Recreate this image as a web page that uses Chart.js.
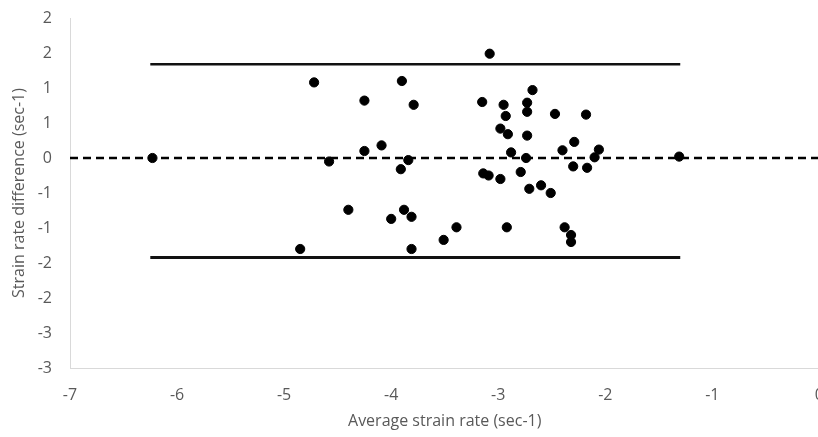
<!DOCTYPE html>
<html lang="en">
<head>
    <meta charset="UTF-8">
    <title>Strain rate Bland-Altman</title>
    <script src="https://cdn.jsdelivr.net/npm/chart.js"></script>
    <style>
        html, body { margin: 0; padding: 0; background: #ffffff; overflow: hidden; }
        #wrap { width: 842px; height: 437px; }
    </style>
</head>
<body>
    <div id="wrap"><canvas id="baChart" width="842" height="437"></canvas></div>
    <script>
        // average strain rate (x) and difference (y) for each subject
        const avgRate = [-6.23, -4.72, -3.90, -4.25, -3.79, -4.09, -4.25, -4.58, -3.84, -3.91,
            -4.40, -3.88, -4.00, -3.81, -4.85, -3.81, -3.08, -2.68, -3.15, -2.95,
            -2.73, -2.93, -2.73, -2.47, -2.18, -2.98, -2.91, -2.73, -2.29, -2.40,
            -2.06, -2.88, -2.10, -2.74, -1.31, -2.30, -2.17, -3.14, -3.09, -2.98,
            -2.79, -2.71, -2.60, -2.51, -3.39, -3.51, -2.92, -2.38, -2.32, -2.32];
        const rateDiff = [0.00, 1.08, 1.10, 0.82, 0.76, 0.18, 0.10, -0.05, -0.03, -0.16,
            -0.74, -0.74, -0.87, -0.84, -1.30, -1.30, 1.49, 0.97, 0.80, 0.76,
            0.79, 0.60, 0.66, 0.63, 0.62, 0.42, 0.34, 0.32, 0.23, 0.11,
            0.12, 0.08, 0.01, 0.00, 0.02, -0.12, -0.14, -0.22, -0.25, -0.30,
            -0.20, -0.44, -0.39, -0.50, -0.99, -1.17, -0.99, -0.99, -1.10, -1.20];

        const meanDiff = 0;
        const upperLimit = 1.34;
        const lowerLimit = -1.42;
        const limitFrom = -6.25;
        const limitTo = -1.30;

        const xTicks = [-7, -6, -5, -4, -3, -2, -1, 0];
        const yTicks = [-3, -2.5, -2, -1.5, -1, -0.5, 0, 0.5, 1, 1.5, 2];

        const points = avgRate.map((x, i) => ({ x: x, y: rateDiff[i] }));

        // Excel-style rounding of the half-step tick labels
        function roundLabel(v) {
            const r = Math.round(Math.abs(v));
            return v < 0 ? '-' + r : String(r);
        }

        const txt = '#595959';
        const fnt = { family: 'Open Sans', size: 16 };

        new Chart(document.getElementById('baChart').getContext('2d'), {
            type: 'scatter',
            data: {
                datasets: [
                    {
                        label: 'Subjects',
                        data: points,
                        backgroundColor: '#000000',
                        borderColor: '#000000',
                        pointRadius: 4.6,
                        pointHoverRadius: 4.6,
                        order: 0
                    },
                    {
                        label: 'Mean',
                        data: [{ x: xTicks[0], y: meanDiff }, { x: xTicks[xTicks.length - 1], y: meanDiff }],
                        showLine: true,
                        borderColor: '#000000',
                        borderWidth: 2.5,
                        borderDash: [8, 5],
                        pointRadius: 0,
                        order: 1
                    },
                    {
                        label: 'Upper limit',
                        data: [{ x: limitFrom, y: upperLimit }, { x: limitTo, y: upperLimit }],
                        showLine: true,
                        borderColor: '#111111',
                        borderWidth: 2.5,
                        pointRadius: 0,
                        order: 1
                    },
                    {
                        label: 'Lower limit',
                        data: [{ x: limitFrom, y: lowerLimit }, { x: limitTo, y: lowerLimit }],
                        showLine: true,
                        borderColor: '#111111',
                        borderWidth: 3,
                        pointRadius: 0,
                        order: 1
                    }
                ]
            },
            options: {
                responsive: false,
                animation: false,
                layout: { padding: 0 },
                plugins: {
                    legend: { display: false },
                    tooltip: { enabled: false }
                },
                scales: {
                    x: {
                        min: xTicks[0],
                        max: xTicks[xTicks.length - 1],
                        afterBuildTicks: (s) => { s.ticks = xTicks.map(v => ({ value: v })); },
                        afterFit: (s) => { s.height = 69; },
                        grid: { display: false, drawTicks: false },
                        border: { display: true, color: '#d9d9d9', width: 1 },
                        ticks: { color: txt, font: fnt, padding: 18, maxRotation: 0 },
                        title: {
                            display: true,
                            text: 'Average strain rate (sec-1)',
                            color: txt,
                            font: fnt,
                            padding: { top: 8, bottom: 6 }
                        }
                    },
                    y: {
                        min: yTicks[0],
                        max: yTicks[yTicks.length - 1],
                        afterBuildTicks: (s) => { s.ticks = yTicks.map(v => ({ value: v })); },
                        afterFit: (s) => { s.width = 70; s.paddingTop = 18; s.paddingBottom = 0; },
                        grid: { display: false, drawTicks: false },
                        border: { display: true, color: '#d9d9d9', width: 1 },
                        ticks: { color: txt, font: fnt, padding: 18, callback: (v) => roundLabel(v) },
                        title: {
                            display: true,
                            text: 'Strain rate difference (sec-1)',
                            color: txt,
                            font: fnt,
                            padding: { top: 10, bottom: 10 }
                        }
                    }
                }
            }
        });
    </script>
</body>
</html>
